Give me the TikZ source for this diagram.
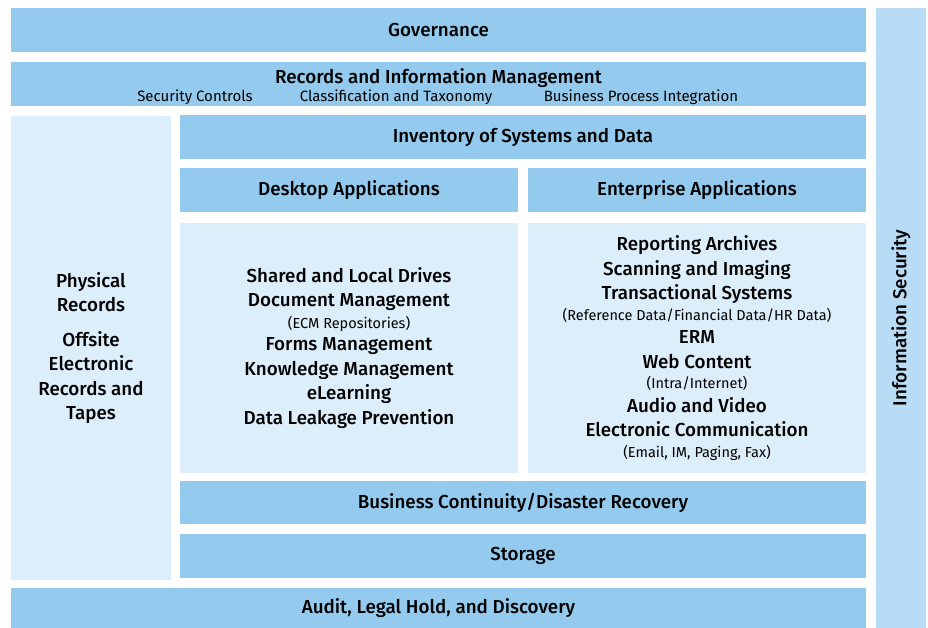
\documentclass[tikz,border=0pt]{standalone}
\usepackage{fontspec}
\setmainfont{Fira Sans}[BoldFont={Fira Sans Medium}]
\usepackage{tikz}
\usetikzlibrary{positioning}
\definecolor{bandblue}{HTML}{93CAED}
\definecolor{paneblue}{HTML}{DCEEFA}
\definecolor{sideblue}{HTML}{B8DCF5}
\newcommand{\detail}[1]{{\fontsize{14.5}{16}\selectfont\mdseries #1}}

\begin{document}
\begin{tikzpicture}
  [
    x=1pt, y=-1pt,
    band/.style =
      {fill=bandblue, minimum height=44pt, inner sep=0pt, outer sep=0pt,
       font=\fontsize{18.8}{22}\selectfont\bfseries},
    pane/.style =
      {fill=paneblue, inner sep=0pt, outer sep=0pt, align=center,
       font=\fontsize{18.8}{24.5}\selectfont\bfseries},
    sub/.style = {font=\fontsize{15}{17}\selectfont, inner sep=0pt}
  ]
  \useasboundingbox (0, 0) rectangle (928, 628);

  % full width bands
  \node [band, minimum width=855pt] at (438.5, 30) (gov) {Governance};
  \node [band, minimum width=855pt] at (438.5, 84) (rim) {};
  \node [band, minimum width=855pt, minimum height=40pt] at (438.5, 608) (audit)
    {Audit, Legal Hold, and Discovery};
  \node [fill=sideblue, minimum width=50pt, minimum height=620pt, outer sep=0pt]
    at (901, 318) (sec) {};

  \node [font=\fontsize{18.8}{22}\selectfont\bfseries, inner sep=0pt] at (438.5, 78) (rimlabel)
    {Records and Information Management};
  \node [sub] at (195, 97.5) (secctl) {Security Controls};
  \node [sub] at (396, 97.5) (classtax) {Classification and Taxonomy};
  \node [sub] at (641, 97.5) (bpi) {Business Process Integration};
  \node [rotate=90, font=\fontsize{18.8}{22}\selectfont\bfseries] at (sec.center) (seclabel)
    {Information Security};

  % left column
  \node [pane, minimum width=160pt, minimum height=463pt] at (91, 348) (phys)
    {Physical\\Records\\[10pt]Offsite\\Electronic\\Records and\\Tapes};

  % inner block
  \node [band, minimum width=686pt] at (523, 137) (inv) {Inventory of Systems and Data};
  \node [band, minimum width=338pt] at (349, 190) (desk) {Desktop Applications};
  \node [band, minimum width=338pt] at (697, 190) (ent) {Enterprise Applications};

  \node [pane, minimum width=338pt, minimum height=250pt] at (349, 348) (deskbody)
    {Shared and Local Drives\\Document Management\\[-3pt]
     \detail{(ECM Repositories)}\\[-2pt]Forms Management\\Knowledge Management\\
     eLearning\\Data Leakage Prevention};
  \node [pane, minimum width=338pt, minimum height=250pt] at (697, 348) (entbody)
    {Reporting Archives\\Scanning and Imaging\\Transactional Systems\\[-4pt]
     \detail{(Reference Data/Financial Data/HR Data)}\\[-1pt]ERM\\Web Content\\[-4pt]
     \detail{(Intra/Internet)}\\[-1pt]Audio and Video\\Electronic Communication\\[-4pt]
     \detail{(Email, IM, Paging, Fax)}};

  \node [band, minimum width=686pt, minimum height=43pt] at (523, 502.5) (bcdr)
    {Business Continuity/Disaster Recovery};
  \node [band, minimum width=686pt] at (523, 556) (store) {Storage};

\end{tikzpicture}
\end{document}
